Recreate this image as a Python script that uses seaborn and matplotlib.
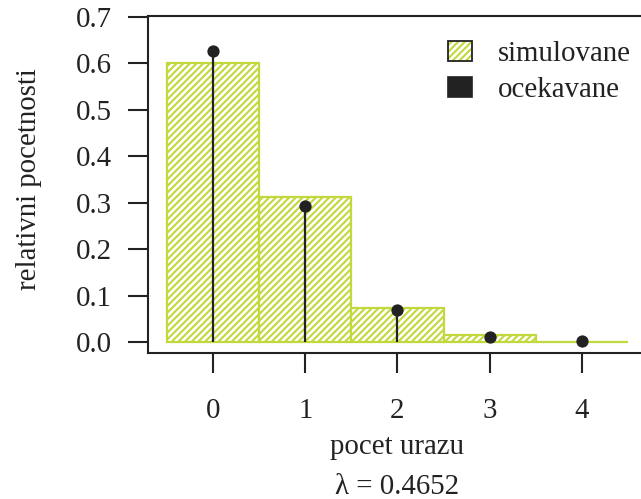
import matplotlib
matplotlib.use("Agg")
import matplotlib.pyplot as plt
import seaborn as sns
import pandas as pd
from matplotlib.patches import Patch
from matplotlib.legend_handler import HandlerTuple

# data
counts = [0, 1, 2, 3, 4]
simulated = [0.600, 0.312, 0.074, 0.016, 0.001]
expected = [0.626, 0.292, 0.068, 0.011, 0.002]
lam_text = "λ = 0.4652"
yticks = [0.0, 0.1, 0.2, 0.3, 0.4, 0.5, 0.6, 0.7]

GREEN = "#C3D83C"
DARK = "#222222"
FS = 20.8

sns.set_theme(style="white")
plt.rcParams["font.family"] = ["Liberation Serif", "DejaVu Serif"]
plt.rcParams["hatch.linewidth"] = 1.5
plt.rcParams["hatch.color"] = GREEN

df = pd.DataFrame({"k": counts, "sim": simulated, "exp": expected})

fig = plt.figure(figsize=(6.41, 4.99), dpi=100)
ax = fig.add_axes([147.5 / 641, 1 - 353 / 499, 497.5 / 641, 337 / 499])

sns.barplot(data=df, x="k", y="sim", width=1.0, color="white",
            edgecolor=GREEN, linewidth=1.6, ax=ax, saturation=1)
for p in ax.patches:
    p.set_hatch("/////")
    p.set_facecolor("white")
    p.set_edgecolor(GREEN)

ax.vlines(df["k"], 0, df["exp"], color=DARK, linewidth=1.6, zorder=3)
sns.scatterplot(data=df, x="k", y="exp", color=DARK, s=78, edgecolor=DARK,
                linewidth=0, ax=ax, zorder=4)

ax.set_xlim(-0.71, 4.684)
ax.set_ylim(-0.0237, 0.7017)
ax.set_yticks(yticks)
ax.set_yticklabels([f"{v:.1f}" for v in yticks])
ax.set_xticks(counts)
ax.set_xticklabels([str(c) for c in counts])

for s in ax.spines.values():
    s.set_color(DARK)
    s.set_linewidth(1.5)
    s.set_visible(True)

ax.tick_params(axis="both", direction="out", length=14.5, width=1.5,
               color=DARK, labelcolor=DARK, labelsize=FS, bottom=True, left=True)
ax.tick_params(axis="y", pad=11)
ax.tick_params(axis="x", pad=18)

ax.set_ylabel("relativni pocetnosti", fontsize=FS, color=DARK)
ax.yaxis.set_label_coords((42 - 147.5) / 497.5, (353 - 179) / 337)
ax.set_xlabel("pocet urazu", fontsize=FS, color=DARK, va="baseline")
ax.xaxis.set_label_coords((397.5 - 147.5) / 497.5, (353 - 454) / 337)
fig.text(397.5 / 641, 1 - 494 / 499, lam_text, fontsize=FS, color=DARK,
         ha="center", va="baseline")

sim_handle = (Patch(facecolor="white", edgecolor=GREEN, hatch="/////", linewidth=0),
              Patch(facecolor="none", edgecolor=DARK, linewidth=1.3))
exp_handle = Patch(facecolor=DARK, edgecolor=DARK, linewidth=1.2)
leg = ax.legend([sim_handle, exp_handle], ["simulovane", "ocekavane"], loc="upper left",
                bbox_to_anchor=(448 / 641, 1 - 41 / 499), bbox_transform=fig.transFigure,
                frameon=False, fontsize=FS, handlelength=0.83, handleheight=0.69,
                handletextpad=0.9, labelspacing=0.33, borderpad=0, borderaxespad=0,
                handler_map={tuple: HandlerTuple(ndivide=1, pad=0)})
for t in leg.get_texts():
    t.set_color(DARK)

fig.savefig("out.png", dpi=100)
